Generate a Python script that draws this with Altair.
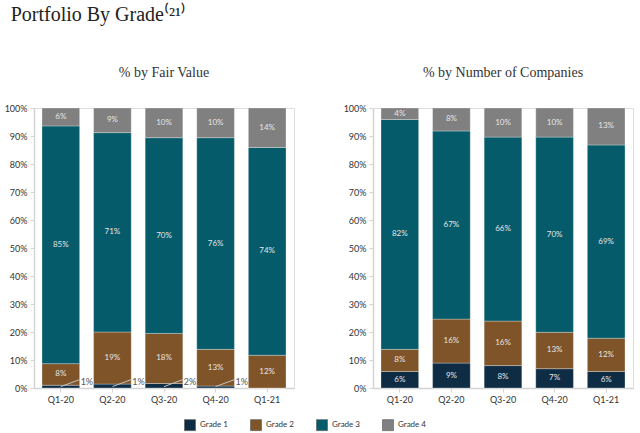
import altair as alt
import pandas as pd

quarters = ["Q1-20", "Q2-20", "Q3-20", "Q4-20", "Q1-21"]
grades = ["Grade 1", "Grade 2", "Grade 3", "Grade 4"]
colors = ["#0e2c44", "#7e5428", "#055b6a", "#808080"]

fv_g1 = [1.0, 1.4, 1.6, 0.7, 0.0]
fv_g2 = [7.7, 18.6, 17.9, 13.1, 11.7]
fv_g3 = [84.9, 71.2, 69.9, 75.6, 74.2]
fv_g4 = [6.4, 8.8, 10.6, 10.6, 14.1]
fv_l1 = [1, 1, 2, 1, None]
fv_l2 = [8, 19, 18, 13, 12]
fv_l3 = [85, 71, 70, 76, 74]
fv_l4 = [6, 9, 10, 10, 14]

# % by Number of Companies
nc_g1 = [5.9, 8.9, 8.0, 6.9, 5.9]
nc_g2 = [7.9, 15.7, 15.9, 13.0, 11.9]
nc_g3 = [82.1, 67.2, 65.7, 69.7, 69.0]
nc_g4 = [4.1, 8.2, 10.4, 10.4, 13.2]
nc_l1 = [6, 9, 8, 7, 6]
nc_l2 = [8, 16, 16, 13, 12]
nc_l3 = [82, 67, 66, 70, 69]
nc_l4 = [4, 8, 10, 10, 13]

y_ticks = list(range(0, 101, 10))
LABEL_FONT = "Lato"


def build_df(series, labels):
    rows = []
    for qi, q in enumerate(quarters):
        acc = 0.0
        for gi, g in enumerate(grades):
            v = series[gi][qi]
            lbl = labels[gi][qi]
            rows.append({
                "quarter": q, "grade": g, "gidx": gi, "value": v,
                "y0": acc, "y1": acc + v, "mid": acc + v / 2,
                "label": "" if lbl is None else f"{lbl}%",
            })
            acc += v
    return pd.DataFrame(rows)


X_AXIS = alt.Axis(labelAngle=0, labelFont=LABEL_FONT, labelFontSize=9,
                  labelColor="#333333", domainColor="#d4d4d4",
                  domainWidth=1.5, tickColor="#d4d4d4", tickSize=4,
                  labelPadding=3, title=None)
Y_AXIS = alt.Axis(values=y_ticks, labelExpr="datum.value + '%'",
                  grid=False, labelFont=LABEL_FONT, labelFontSize=9,
                  labelColor="#333333", domainColor="#d4d4d4",
                  domainWidth=1.5, tickColor="#d4d4d4", tickSize=4,
                  labelPadding=3, labelOverlap=False, title=None)
X_SCALE = alt.Scale(paddingInner=0.27, paddingOuter=0.155)
Y_SCALE = alt.Scale(domain=[0, 100], nice=False)


def xq(**kw):
    return alt.X("quarter:N", sort=quarters, scale=X_SCALE, axis=X_AXIS,
                 title=None, **kw)


def panel(title, df, outside_g1):
    base = alt.Chart(df)
    bars = base.mark_bar(stroke="#ffffff", strokeWidth=0.3).encode(
        x=xq(),
        y=alt.Y("y0:Q", title=None, scale=Y_SCALE, axis=Y_AXIS),
        y2="y1:Q",
        color=alt.Color("grade:N", scale=alt.Scale(domain=grades, range=colors),
                        legend=alt.Legend(title=None, orient="none",
                                          direction="horizontal",
                                          legendX=150, legendY=311,
                                          symbolType="square", symbolSize=121,
                                          symbolStrokeColor="#555555",
                                          symbolStrokeWidth=0.6,
                                          labelFont=LABEL_FONT, labelFontSize=8,
                                          labelColor="#333333", labelOffset=4,
                                          columnPadding=21)),
    )
    cond = "datum.label != ''"
    if outside_g1:
        cond += " && datum.grade != 'Grade 1'"
    text = base.transform_filter(cond).mark_text(
        font=LABEL_FONT, fontSize=8, color="#e6e6e6", baseline="middle"
    ).encode(
        x=xq(),
        y=alt.Y("mid:Q", title=None, scale=Y_SCALE, axis=Y_AXIS),
        text="label:N",
    )
    layers = [bars, text]
    if outside_g1:
        g1 = base.transform_filter("datum.grade == 'Grade 1' && datum.label != ''")
        lead = g1.mark_rule(color="#c4c4c4", strokeWidth=1).encode(
            x=xq(bandPosition=0.5),
            x2=alt.X2("quarter", bandPosition=1.0),
            y=alt.YDatum(0.5, scale=Y_SCALE, axis=Y_AXIS),
            y2=alt.datum(3.0),
        )
        out = g1.mark_text(font=LABEL_FONT, fontSize=9, color="#555555",
                           align="left", baseline="middle", dx=1).encode(
            x=xq(bandPosition=1.0),
            y=alt.YDatum(2.0, scale=Y_SCALE, axis=Y_AXIS),
            text="label:N",
        )
        layers += [lead, out]
    return alt.layer(*layers).properties(
        width=260, height=280,
        title=alt.TitleParams(title, font="Liberation Serif", fontSize=14,
                              fontWeight="normal", color="#333333", offset=24),
    )


fv_df = build_df([fv_g1, fv_g2, fv_g3, fv_g4], [fv_l1, fv_l2, fv_l3, fv_l4])
nc_df = build_df([nc_g1, nc_g2, nc_g3, nc_g4], [nc_l1, nc_l2, nc_l3, nc_l4])

chart = alt.hconcat(
    panel("% by Fair Value", fv_df, True),
    panel("% by Number of Companies", nc_df, False),
    spacing=47,
).properties(
    title=alt.TitleParams("Portfolio By Grade⁽²¹⁾", font="Liberation Serif",
                          fontSize=20, fontWeight="normal", color="#222222",
                          anchor="start", offset=41, dx=7),
    padding={"left": 3, "top": 4, "right": 3, "bottom": 0},
).configure_view(stroke=None).configure(background="#ffffff")

chart.save("out.html", embed_options={"renderer": "svg", "actions": False})
